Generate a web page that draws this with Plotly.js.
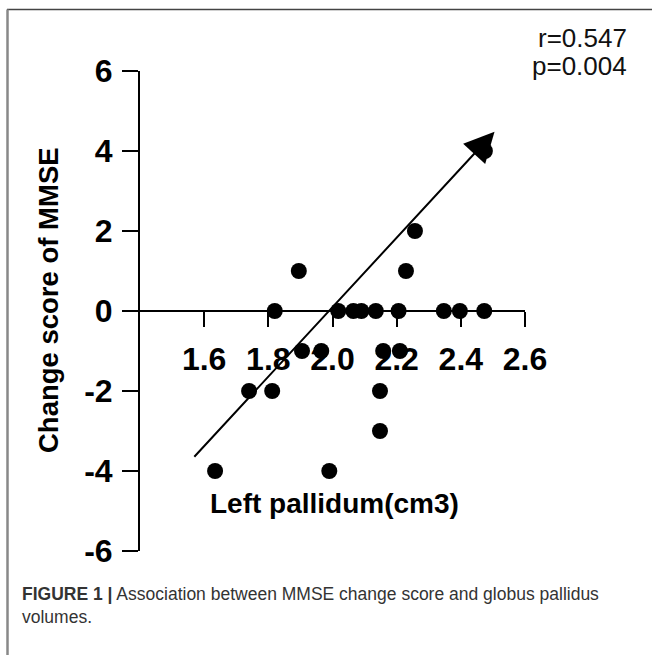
<!DOCTYPE html>
<html>
<head>
<meta charset="utf-8">
<script src="https://cdn.plot.ly/plotly-3.0.1.min.js"></script>
<style>html,body{margin:0;padding:0;background:#fff;}#chart{width:652px;height:655px;}</style>
</head>
<body>
<div id="chart"></div>
<script>
// ---- data ----
const leftPallidum = [1.634, 1.74, 1.812, 1.82, 1.895, 1.905, 1.965, 1.99, 2.018, 2.065, 2.09, 2.135,
                      2.148, 2.148, 2.158, 2.206, 2.21, 2.229, 2.257, 2.347, 2.397, 2.473, 2.475];
const mmseChange   = [-4, -2, -2, 0, 1, -1, -1, -4, 0, 0, 0, 0,
                      -2, -3, -1, 0, -1, 1, 2, 0, 0, 0, 4];
const trendX = [1.565, 2.505];      // arrow line (start, tip)
const trendY = [-3.68, 4.48];
const xTicks = [1.6, 1.8, 2.0, 2.2, 2.4, 2.6];
const xTickText = ['1.6', '1.8', '2.0', '2.2', '2.4', '2.6'];
const yTicks = [-6, -4, -2, 0, 2, 4, 6];
const yTickText = ['-6', '-4', '-2', '0', '2', '4', '6'];
const statsText = ['r=0.547', 'p=0.004'];
const xTitle = 'Left pallidum(cm3)';
const yTitle = 'Change score of MMSE';
const caption = '<b>FIGURE 1 |</b> Association between MMSE change score and globus pallidus<br>volumes.';

// ---- layout helpers (pixel -> paper) ----
const W = 652, H = 655, L = 140, R = 127, T = 71, B = 104;
const PW = W - L - R, PH = H - T - B;
const px = x => (x - L) / PW;
const py = y => (H - B - y) / PH;
const FONT = 'Liberation Sans, Arial, Helvetica, sans-serif';

const trace = {
  x: leftPallidum, y: mmseChange, type: 'scatter', mode: 'markers',
  marker: {size: 16, color: '#000'}, hoverinfo: 'skip', cliponaxis: false
};

const layout = {
  width: W, height: H,
  margin: {l: L, r: R, t: T, b: B, pad: 0},
  paper_bgcolor: '#fff', plot_bgcolor: '#fff',
  showlegend: false,
  font: {family: FONT, color: '#000'},
  xaxis: {
    range: [1.4, 2.6], anchor: 'free', position: 0.5,
    showline: true, linewidth: 2, linecolor: '#000',
    ticks: 'outside', ticklen: 15, tickwidth: 2, tickcolor: '#000',
    tickvals: xTicks, ticktext: xTickText, ticklabelstandoff: 5,
    tickfont: {size: 32, weight: 700, family: FONT, color: '#000'},
    showgrid: false, zeroline: false
  },
  yaxis: {
    range: [-6, 6],
    showline: true, linewidth: 2, linecolor: '#000',
    ticks: 'outside', ticklen: 16, tickwidth: 2, tickcolor: '#000',
    tickvals: yTicks, ticktext: yTickText, ticklabelstandoff: 3,
    tickfont: {size: 32, weight: 700, family: FONT, color: '#000'},
    showgrid: false, zeroline: false
  },
  annotations: [
    {x: trendX[1], y: trendY[1], ax: trendX[0], ay: trendY[0],
     xref: 'x', yref: 'y', axref: 'x', ayref: 'y', text: '',
     showarrow: true, arrowhead: 2, arrowsize: 3, arrowwidth: 2, arrowcolor: '#000', standoff: 0},
    {xref: 'paper', yref: 'paper', x: px(334), y: py(503), text: xTitle, showarrow: false,
     xanchor: 'center', yanchor: 'middle', font: {size: 28, weight: 700, family: FONT, color: '#000'}},
    {xref: 'paper', yref: 'paper', x: px(48), y: py(300), text: yTitle, showarrow: false, textangle: -90,
     xanchor: 'center', yanchor: 'middle', font: {size: 27.5, weight: 700, family: FONT, color: '#000'}},
    {xref: 'paper', yref: 'paper', x: px(629), y: py(38), text: statsText[0], showarrow: false,
     xanchor: 'right', yanchor: 'middle', font: {size: 26, family: FONT, color: '#111'}},
    {xref: 'paper', yref: 'paper', x: px(629), y: py(66), text: statsText[1], showarrow: false,
     xanchor: 'right', yanchor: 'middle', font: {size: 26, family: FONT, color: '#111'}},
    {xref: 'paper', yref: 'paper', x: px(20), y: py(582), text: caption, showarrow: false,
     xanchor: 'left', yanchor: 'top', align: 'left', font: {size: 17.5, family: FONT, color: '#333'}}
  ],
  shapes: [
    {type: 'line', xref: 'paper', yref: 'paper', x0: px(7), x1: px(652), y0: py(9.5), y1: py(9.5),
     line: {color: '#444', width: 1.5}},
    {type: 'line', xref: 'paper', yref: 'paper', x0: px(7.5), x1: px(7.5), y0: py(9.5), y1: py(655),
     line: {color: '#888', width: 2.5}}
  ]
};

Plotly.newPlot('chart', [trace], layout, {displayModeBar: false, staticPlot: true});
</script>
</body>
</html>
